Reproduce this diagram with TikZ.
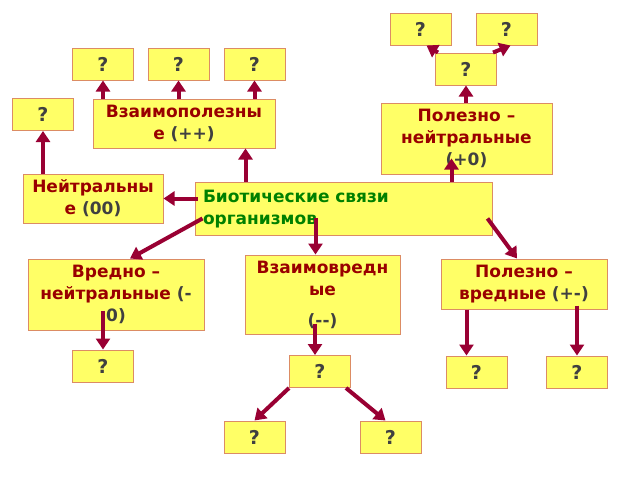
\documentclass[tikz,border=0pt]{standalone}
\usepackage{fontspec}
\setmainfont{DejaVu Sans}
\usetikzlibrary{arrows.meta}
\definecolor{boxfill}{RGB}{255,255,102}
\definecolor{boxline}{RGB}{220,140,100}
\definecolor{lblred}{RGB}{153,0,0}
\definecolor{lblgray}{RGB}{64,64,64}
\definecolor{lblgreen}{RGB}{0,128,0}
\definecolor{arrred}{RGB}{153,0,51}
\begin{document}
\begin{tikzpicture}[x=1pt,y=-1pt,
  box/.style={draw=boxline,fill=boxfill,line width=1pt,inner sep=2pt,align=center,
    font=\bfseries\fontsize{17}{22}\selectfont,text=lblred},
  qbox/.style={box,minimum width=61pt,minimum height=32pt,text=lblgray,
    font=\bfseries\fontsize{19}{22}\selectfont},
  arr/.style={draw=arrred,line width=4pt,-{Triangle[length=11pt,width=14pt]}}]
\useasboundingbox (0,0) rectangle (640,480);
% centre
\node[box,text=lblgreen,align=left,text width=281pt,inner sep=8pt,minimum height=48pt]
  (bio) at (343.5,209) {Биотические связи\\организмов};
% upper half
\node[box,minimum width=182pt,minimum height=49pt] (mutual) at (184,123.5)
  {Взаимополезны\\е {\color{lblgray}(++)}};
\node[qbox] (q1) at (103,64) {?};
\node[qbox] (q2) at (178.5,64) {?};
\node[qbox] (q3) at (254.5,64) {?};
\node[box,minimum width=140pt,minimum height=49pt] (neutral) at (93,198.5)
  {Нейтральны\\е {\color{lblgray}(00)}};
\node[qbox] (qn) at (43,114.5) {?};
\node[box,minimum width=171pt,minimum height=71pt] (comm) at (466.5,138.5)
  {Полезно –\\нейтральные\\{\color{lblgray}(+0)}};
\node[qbox] (qc) at (466,69) {?};
\node[qbox] (qa) at (420.5,29) {?};
\node[qbox] (qb) at (506.5,29) {?};
% lower half
\node[box,minimum width=176pt,minimum height=71pt] (amens) at (116,294.5)
  {Вредно –\\нейтральные {\color{lblgray}(-}\\{\color{lblgray}0)}};
\node[qbox] (qd) at (103,366) {?};
\node[box,minimum width=155pt,minimum height=79pt] (compet) at (322.5,294.5)
  {Взаимовредн\\ые\\[9pt]{\color{lblgray}(-{}-)}};
\node[qbox] (qe) at (320,371.5) {?};
\node[qbox] (qf) at (254.5,437) {?};
\node[qbox] (qg) at (390.5,437) {?};
\node[box,minimum width=166pt,minimum height=50pt] (para) at (524,284)
  {Полезно –\\вредные {\color{lblgray}(+-)}};
\node[qbox] (qh) at (476.5,372) {?};
\node[qbox] (qi) at (577,372) {?};
% arrows
\draw[arr] (q1.south |- mutual.north) -- (q1.south);
\draw[arr] (q2.south |- mutual.north) -- (q2.south);
\draw[arr] (q3.south |- mutual.north) -- (q3.south);
\draw[arr] (qn.south |- neutral.north) -- (qn.south);
\draw[arr] ([xshift=-30pt]mutual.south east |- bio.north) -- ([xshift=-30pt]mutual.south east);
\draw[arr] ([xshift=3pt]bio.west |- neutral.east) -- (neutral.east);
\draw[arr] ([xshift=-15pt]comm.south |- bio.north) -- ([xshift=-15pt,yshift=16pt]comm.south);
\draw[arr] (qc.north |- comm.north) -- (qc.south);
\draw[arr] ([xshift=3pt]qc.north west) -- ([xshift=6pt]qa.south);
\draw[arr] ([xshift=-4pt]qc.north east) -- ([xshift=4pt]qb.south);
\draw[arr] ([xshift=8pt,yshift=18pt]bio.south west) -- ([xshift=14pt]amens.north);
\draw[arr] ([xshift=-7pt,yshift=18pt]compet.north |- bio.south) -- ([xshift=-7pt]compet.north);
\draw[arr] ([xshift=-5pt,yshift=18pt]bio.south east) -- ([xshift=-7pt]para.north);
\draw[arr] ([yshift=20pt]qd.north |- amens.south) -- (qd.north);
\draw[arr] ([xshift=-5pt,yshift=11pt]qe.north |- compet.south) -- ([xshift=-5pt]qe.north);
\draw[arr] (qe.south west) -- (qf.north);
\draw[arr] ([xshift=-5pt]qe.south east) -- ([xshift=-5pt]qg.north);
\draw[arr] ([xshift=-10pt]qh.north |- para.south) -- ([xshift=-10pt]qh.north);
\draw[arr] ([yshift=4pt]qi.north |- para.south) -- (qi.north);
\end{tikzpicture}
\end{document}
